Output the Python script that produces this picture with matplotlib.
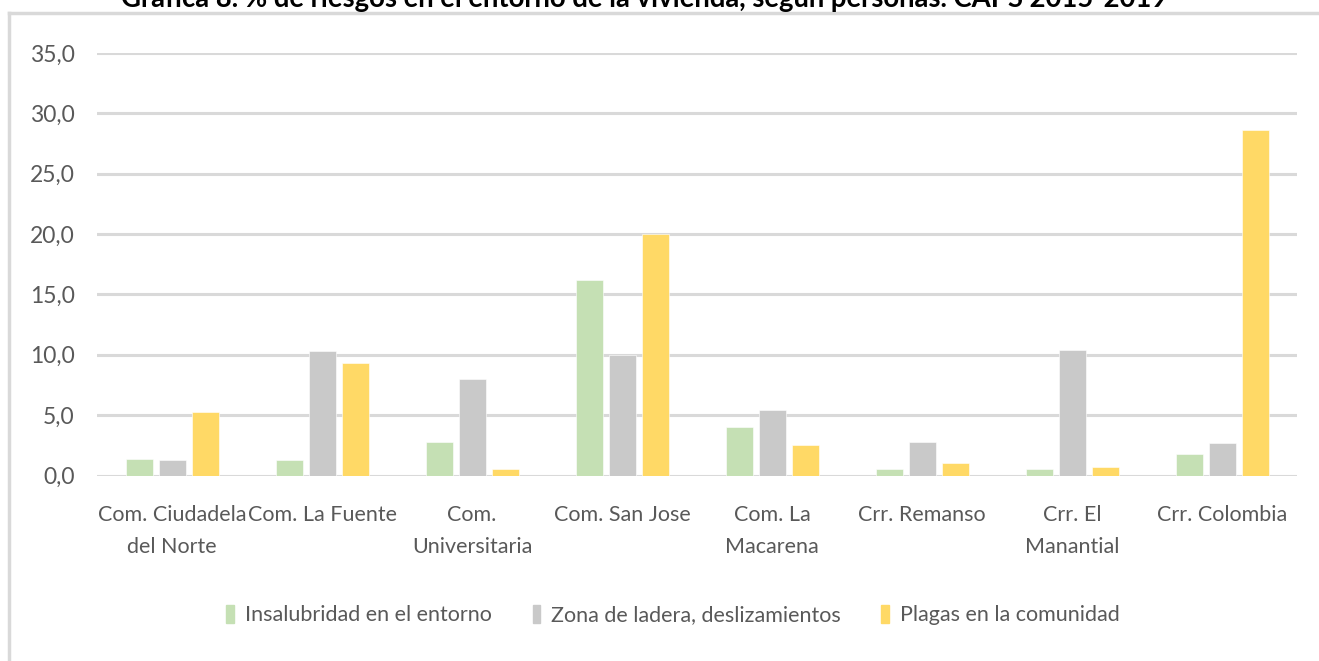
import matplotlib.pyplot as plt
import numpy as np
from matplotlib.lines import Line2D

# data
categories = ["Com. Ciudadela\ndel Norte", "Com. La Fuente", "Com.\nUniversitaria",
              "Com. San Jose", "Com. La\nMacarena", "Crr. Remanso",
              "Crr. El\nManantial", "Crr. Colombia"]
insalubridad = [1.4, 1.3, 2.8, 16.2, 4.0, 0.5, 0.5, 1.8]
ladera       = [1.3, 10.3, 8.0, 10.0, 5.4, 2.8, 10.4, 2.7]
plagas       = [5.3, 9.3, 0.5, 20.0, 2.5, 1.0, 0.7, 28.6]
series_names = ["Insalubridad en el entorno", "Zona de ladera, deslizamientos",
                "Plagas en la comunidad"]
yticks = [0, 5, 10, 15, 20, 25, 30, 35]
title = "Gráfica 8. % de riesgos en el entorno de la vivienda, según personas. CAPS 2015-2019"

colors = ["#C5E0B4", "#C9C9C9", "#FFD966"]
txt_color = "#595959"
grid_color = "#D9D9D9"

plt.rcParams['font.family'] = ['Lato', 'DejaVu Sans']

W, H = 1319, 661
fig = plt.figure(figsize=(W/100, H/100), dpi=100)

# axes placement in pixels
left, right, bottom_px, top_px = 97, 1297, 475.5, 53
ax = fig.add_axes([left/W, 1 - bottom_px/H, (right-left)/W, (bottom_px-top_px)/H])

x = np.arange(len(categories))
step, width = 0.22, 0.18
for k, vals in enumerate([insalubridad, ladera, plagas]):
    ax.bar(x + (k-1)*step, vals, width, color=colors[k], edgecolor="white",
           linewidth=0.4, zorder=3, label=series_names[k])

ax.set_xlim(-0.5, len(categories) - 0.5)
ax.set_ylim(0, 35)
ax.set_yticks(yticks)
ax.set_yticklabels([f"{v:.1f}".replace(".", ",") for v in yticks])
ax.yaxis.grid(True, color=grid_color, linewidth=2.2, zorder=0)
ax.set_axisbelow(True)
for s in ax.spines.values():
    s.set_visible(False)
ax.tick_params(axis='both', length=0, colors=txt_color, labelsize=15.5)
ax.tick_params(axis='y', labelsize=16.5, pad=16)
ax.tick_params(axis='x', pad=21)
ax.set_xticks(x)
ax.set_xticklabels(categories, linespacing=1.8)

# legend
handles = [plt.Rectangle((0, 0), 1, 1, color=c) for c in colors]
fig.legend(handles, series_names, loc='center', bbox_to_anchor=(673/W, 1 - 615/H),
           ncol=3, frameon=False, fontsize=15.5, labelcolor=txt_color,
           handlelength=0.35, handleheight=0.9, handletextpad=0.5, columnspacing=1.9)

# chart frame (top and left edges only visible)
fig.add_artist(Line2D([9/W, 9/W], [0, 1 - 13/H], color=grid_color, linewidth=2.5))
fig.add_artist(Line2D([9/W, 1], [1 - 13/H, 1 - 13/H], color=grid_color, linewidth=2.5))

# title, cut off at the top edge like in the reference
fig.text(644/W, 1 - 7/H, title, ha='center', va='baseline', fontsize=19.8,
         fontweight='bold', color='black')

fig.savefig("out.png", dpi=100)
